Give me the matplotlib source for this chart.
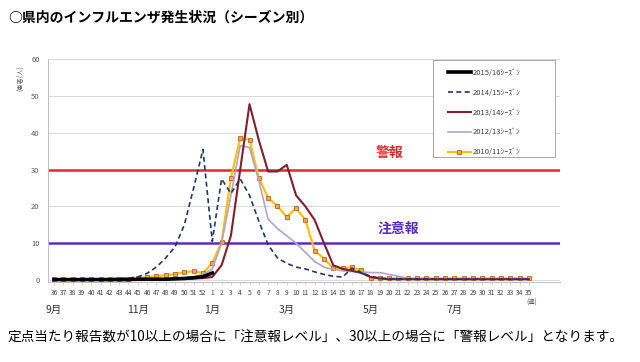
import matplotlib
matplotlib.use('Agg')
import matplotlib.pyplot as plt
from matplotlib.patches import Rectangle
import numpy as np

plt.rcParams['font.family'] = ['Noto Sans CJK JP', 'DejaVu Sans']

weeks = list(range(36, 53)) + list(range(1, 36))

s2015 = [0.1, 0.1, 0.1, 0.1, 0.1, 0.1, 0.1, 0.1, 0.1, 0.2, 0.2, 0.2, 0.2,
         0.3, 0.4, 0.6, 0.9, 1.9]

s2014 = [0.3, 0.3, 0.3, 0.3, 0.3, 0.3, 0.3, 0.4, 0.5, 0.8, 1.8, 3.5, 6.0,
         9.0, 15.0, 25.0, 35.5, 10.5, 27.5, 23.5, 27.5, 23.0, 16.0, 9.5,
         6.0, 4.5, 3.5, 3.0, 2.2, 1.5, 1.0, 0.8, 3.2, 2.0, 1.0, 0.5,
         0.3, 0.3, 0.3, 0.3, 0.3, 0.2, 0.2, 0.2, 0.2, 0.2, 0.2, 0.2, 0.2,
         0.2, 0.2, 0.2]

s2013 = [0.1, 0.1, 0.1, 0.1, 0.1, 0.1, 0.1, 0.1, 0.1, 0.1, 0.2, 0.2, 0.2,
         0.3, 0.3, 0.4, 0.5, 0.8, 4.0, 12.0, 30.0, 47.8, 38.0, 29.5, 29.5,
         31.3, 23.0, 20.0, 16.3, 10.0, 4.0, 3.0, 2.5, 1.9, 0.8, 0.4,
         0.2, 0.2, 0.2, 0.2, 0.2, 0.2, 0.2, 0.2, 0.2, 0.2, 0.2, 0.2, 0.2,
         0.2, 0.2, 0.2]

s2012 = [0.1, 0.1, 0.1, 0.1, 0.1, 0.2, 0.2, 0.2, 0.2, 0.2, 0.3, 0.3, 0.3,
         0.4, 0.6, 0.9, 1.5, 3.0, 10.0, 23.0, 36.5, 36.0, 27.0, 16.5,
         14.0, 12.0, 10.0, 7.5, 5.0, 3.5, 2.8, 2.5, 2.3, 2.2, 2.0, 2.0,
         1.5, 1.0, 0.5, 0.2, 0.2, 0.2, 0.2, 0.2, 0.2, 0.2, 0.2, 0.2, 0.2,
         0.2, 0.2, 0.2]

s2010 = [0.2, 0.2, 0.2, 0.2, 0.2, 0.2, 0.3, 0.3, 0.3, 0.4, 0.8, 1.0, 1.3,
         1.6, 2.1, 2.4, 1.9, 4.6, 10.3, 27.7, 38.6, 38.1, 27.7, 22.3,
         20.1, 17.1, 19.6, 16.3, 8.0, 5.8, 3.2, 3.2, 3.4, 2.7, 0.6, 0.4,
         0.4, 0.4, 0.4, 0.4, 0.4, 0.4, 0.4, 0.4, 0.4, 0.4, 0.4, 0.4, 0.4,
         0.4, 0.4, 0.4]

alert_level = 30
warn_level = 10

month_labels = ['9月', '11月', '1月', '3月', '5月', '7月']
month_weeks = [36, 45, 1, 9, 18, 27]

fig = plt.figure(figsize=(6.4, 3.62), dpi=100)
ax = fig.add_axes([48 / 640, 1 - 281.8 / 362, 512 / 640, (281.8 - 59.3) / 362])

x = np.arange(len(weeks))

ax.plot(x[:len(s2010)], s2010, color='#FFC000', lw=1.6, marker='s', ms=2.8,
        mfc='#F4A460', mec='#B5651D', mew=0.6, label='2010/11ｼｰｽﾞﾝ', zorder=3)
ax.plot(x[:len(s2012)], s2012, color='#B1A3CC', lw=1.2, label='2012/13ｼｰｽﾞﾝ', zorder=3)
ax.plot(x[:len(s2013)], s2013, color='#7E1F2B', lw=1.5, label='2013/14ｼｰｽﾞﾝ', zorder=4)
ax.plot(x[:len(s2014)], s2014, color='#1F3864', lw=1.2, ls=(0, (3, 2)),
        label='2014/15ｼｰｽﾞﾝ', zorder=4)
ax.plot(x[:len(s2015)], s2015, color='black', lw=2.6, label='2015/16ｼｰｽﾞﾝ', zorder=5)

ax.axhline(alert_level, color='#E0282E', lw=1.8, zorder=2)
ax.axhline(warn_level, color='#5A2BC4', lw=1.8, zorder=2)
ax.text(36, 32.5, '警報', color='#E0282E', fontsize=10, fontweight='bold',
        ha='center', va='bottom')
ax.text(37, 12.0, '注意報', color='#5A2BC4', fontsize=10, fontweight='bold',
        ha='center', va='bottom')

ax.set_xlim(-6 / 9.31, (560 - 54) / 9.31)
ax.set_ylim(-0.5, 60)
ax.set_yticks(range(0, 61, 10))
ax.set_xticks(x)
ax.set_xticklabels([str(w) for w in weeks], fontsize=4.8, color='#404040')
ax.tick_params(axis='x', length=2, pad=3, color='#BFBFBF', width=0.5)
ax.tick_params(axis='y', length=0, labelsize=5.5, labelcolor='#595959', pad=6)
ax.grid(axis='y', color='#D9D9D9', lw=0.7)
ax.set_axisbelow(True)
for side in ['top', 'right']:
    ax.spines[side].set_visible(False)
for side in ['left', 'bottom']:
    ax.spines[side].set_color('#BFBFBF')
    ax.spines[side].set_linewidth(0.7)

for lab, wk in zip(month_labels, month_weeks):
    ax.text(weeks.index(wk), -8.2, lab, fontsize=7.5, ha='center', va='center',
            color='#333333')
ax.text(51.3, -6.2, '(週)', fontsize=4.5, ha='center', va='center', color='#595959')

fig.text(20 / 640, 1 - 78 / 362, '(患者/人)', rotation=90, fontsize=4.5,
         color='#595959', ha='center', va='center')

# legend frame drawn by hand so it matches the wide box of the original
fig.patches.append(Rectangle((433 / 640, 1 - 157 / 362), 122 / 640, 97 / 362,
                             transform=fig.transFigure, facecolor='white',
                             edgecolor='#A6A6A6', lw=0.7, zorder=5))
handles, labels = ax.get_legend_handles_labels()
leg = fig.legend(handles[::-1], labels[::-1], loc='upper left',
                 bbox_to_anchor=(441 / 640, 1 - 62 / 362),
                 fontsize=5.5, labelspacing=1.55, handlelength=3.0,
                 handletextpad=0.2, borderpad=0.4, frameon=False)
leg.set_zorder(6)
for t in leg.get_texts():
    t.set_color('#404040')

fig.text(8 / 640, 1 - 18 / 362, '○県内のインフルエンザ発生状況（シーズン別）',
         fontsize=10, fontweight='bold', ha='left', va='center')
fig.text(8 / 640, 1 - 338 / 362,
         '定点当たり報告数が10以上の場合に「注意報レベル」、30以上の場合に「警報レベル」となります。',
         fontsize=9.8, ha='left', va='center')

fig.savefig('out.png', dpi=100)
